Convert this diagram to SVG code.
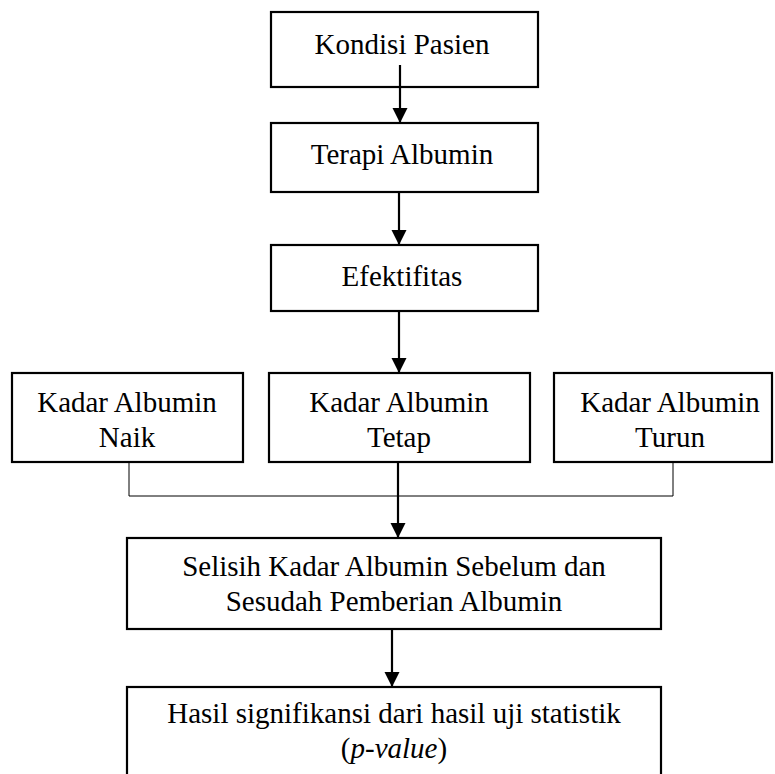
<svg xmlns="http://www.w3.org/2000/svg" width="775" height="774" viewBox="0 0 775 774">
<style>
.box{fill:#fff;stroke:#000;stroke-width:2.2}
.t{font-family:'Liberation Serif','DejaVu Serif',serif;font-size:29px;fill:#000;text-anchor:middle}
.arr{stroke:#000;stroke-width:2.2;fill:none;marker-end:url(#ah)}
.thin{stroke:#000;stroke-width:1;fill:none}
</style>
<defs>
<marker id="ah" markerUnits="userSpaceOnUse" markerWidth="16" markerHeight="16" refX="15" refY="8" orient="auto">
<path d="M0,0.5 L15,8 L0,15.5 z" fill="#000"/>
</marker>
</defs>
<rect width="775" height="774" fill="#fff"/>
<g id="n1"><rect class="box" x="271" y="12" width="267" height="75"/><text class="t" font-family="Liberation Serif" x="402" y="54">Kondisi Pasien</text></g>
<g id="n2"><rect class="box" x="271" y="123" width="267" height="69"/><text class="t" x="402" y="164">Terapi Albumin</text></g>
<g id="n3"><rect class="box" x="271" y="245" width="267" height="66"/><text class="t" x="402" y="286">Efektifitas</text></g>
<g id="n4"><rect class="box" x="12" y="373" width="231" height="89"/><text class="t" x="127" y="412">Kadar Albumin</text><text class="t" x="127" y="447">Naik</text></g>
<g id="n5"><rect class="box" x="269" y="373" width="261" height="89"/><text class="t" x="399" y="412">Kadar Albumin</text><text class="t" x="399" y="447">Tetap</text></g>
<g id="n6"><rect class="box" x="554" y="373" width="218" height="89"/><text class="t" x="670" y="412">Kadar Albumin</text><text class="t" x="670" y="447">Turun</text></g>
<g id="n7"><rect class="box" x="127" y="538" width="534" height="91"/><text class="t" x="394" y="576">Selisih Kadar Albumin Sebelum dan</text><text class="t" x="394" y="611">Sesudah Pemberian Albumin</text></g>
<g id="n8"><rect class="box" x="127" y="687" width="534" height="110"/><text class="t" x="394" y="723">Hasil signifikansi dari hasil uji statistik</text><text class="t" x="394" y="758">(<tspan font-style="italic">p-value</tspan>)</text></g>
<g id="connectors">
<line class="arr" x1="400" y1="65" x2="400" y2="123"/>
<line class="arr" x1="399" y1="192" x2="399" y2="245"/>
<line class="arr" x1="399" y1="311" x2="399" y2="373"/>
<polyline class="thin" points="129,462 129,496 673,496 673,462"/>
<line class="arr" x1="398" y1="462" x2="398" y2="538"/>
<line class="arr" x1="392" y1="629" x2="392" y2="687"/>
</g>
</svg>
